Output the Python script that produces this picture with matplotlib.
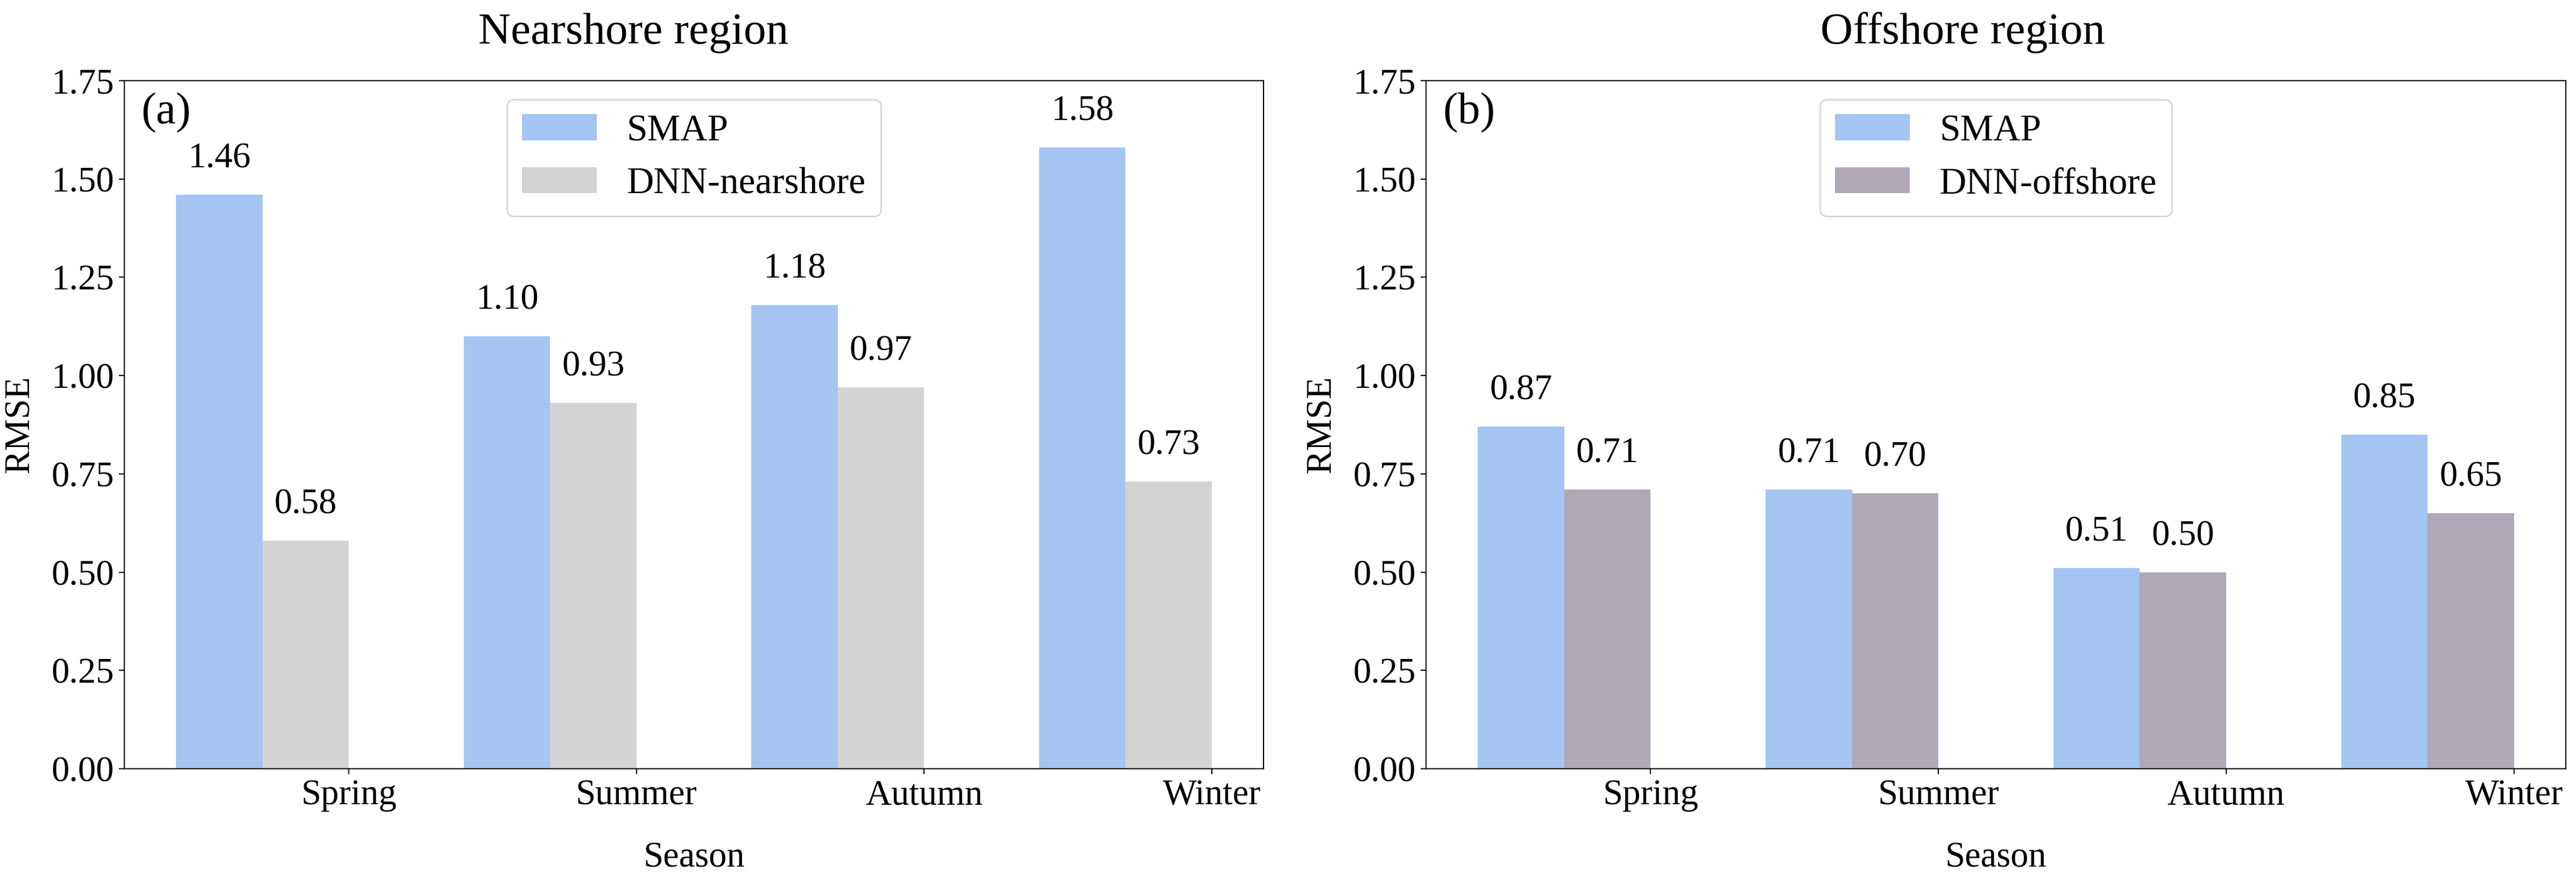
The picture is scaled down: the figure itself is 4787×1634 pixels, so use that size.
import numpy as np
import matplotlib
matplotlib.use("Agg")
import matplotlib.pyplot as plt

plt.rcParams['font.family'] = ['Liberation Serif', 'DejaVu Serif']

seasons = ["Spring", "Summer", "Autumn", "Winter"]
near_smap = [1.46, 1.10, 1.18, 1.58]
near_dnn = [0.58, 0.93, 0.97, 0.73]
off_smap = [0.87, 0.71, 0.51, 0.85]
off_dnn = [0.71, 0.70, 0.50, 0.65]

c_smap = "#A4C4F2"
c_near = "#D3D3D3"
c_off = "#B0A7B8"

W, H = 4787, 1634
fig = plt.figure(figsize=(W / 200, H / 200), dpi=200)

ax_y0 = (H - 1429) / H
ax_h = (1429 - 150) / H
ax1 = fig.add_axes([231 / W, ax_y0, (2348 - 231) / W, ax_h])
ax2 = fig.add_axes([2650 / W, ax_y0, (4768 - 2650) / W, ax_h])

width = 0.3
x = np.arange(len(seasons))

panels = [
    (ax1, near_smap, near_dnn, c_near, "DNN-nearshore", "Nearshore region", "(a)", 0.447),
    (ax2, off_smap, off_dnn, c_off, "DNN-offshore", "Offshore region", "(b)", 0.471),
]

for ax, smap, dnn, cdnn, lab, title, tag, tx in panels:
    b1 = ax.bar(x, smap, width, color=c_smap, label="SMAP")
    b2 = ax.bar(x + width, dnn, width, color=cdnn, label=lab)
    for bars, vals in ((b1, smap), (b2, dnn)):
        for rect, v in zip(bars, vals):
            ax.text(rect.get_x() + rect.get_width() / 2, v + 0.05, f"{v:.2f}",
                    ha="center", va="bottom", fontsize=24)
    ax.set_ylim(0, 1.75)
    ax.set_yticks(np.arange(0, 1.76, 0.25))
    ax.set_xticks(x + 1.5 * width)
    ax.set_xticklabels(seasons)
    ax.tick_params(axis="both", labelsize=24)
    ax.set_xlabel("Season", fontsize=24, labelpad=20)
    ax.set_ylabel("RMSE", fontsize=24, labelpad=10)
    ax.set_title(title, fontsize=30, x=tx, pad=25)
    ax.text(0.015, 0.983, tag, transform=ax.transAxes, ha="left", va="top", fontsize=30)
    ax.legend(loc="upper center", fontsize=25)

fig.savefig("out.png", dpi=200)
